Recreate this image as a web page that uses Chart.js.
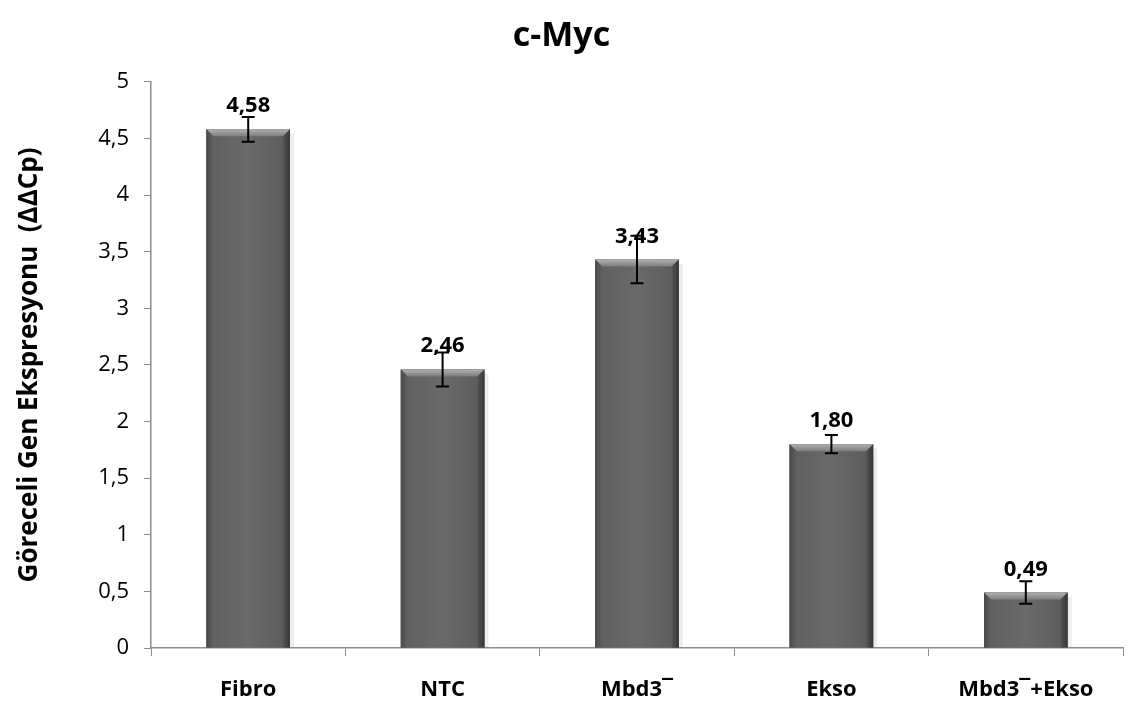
<!DOCTYPE html>
<html>
<head>
<meta charset="utf-8">
<script src="https://cdn.jsdelivr.net/npm/chart.js@4"></script>
<style>
  html, body { margin: 0; padding: 0; background: #fff; }
  #wrap { width: 1139px; height: 708px; }
</style>
</head>
<body>
<div id="wrap"><canvas id="chart"></canvas></div>
<script>
const categories = ['Fibro', 'NTC', 'Mbd3¯', 'Ekso', 'Mbd3¯+Ekso'];
const values = [4.58, 2.46, 3.43, 1.80, 0.49];
const errors = [0.11, 0.15, 0.21, 0.08, 0.10];

const FONT = "'Open Sans', 'Liberation Sans', sans-serif";
const comma = (v, d) => (d === undefined ? String(v) : v.toFixed(d)).replace('.', ',');

// bevelled bars, error whiskers and value labels
const barExtras = {
  id: 'barExtras',
  afterDatasetsDraw(chart) {
    const ctx = chart.ctx;
    const yScale = chart.scales.y;
    const meta = chart.getDatasetMeta(0);
    meta.data.forEach((bar, i) => {
      const p = bar.getProps(['x', 'y', 'width', 'base'], true);
      const l = p.x - p.width / 2, r = p.x + p.width / 2;
      const t = p.y, b = p.base;
      const bv = 7;
      ctx.save();
      // soft shadow on the right
      ctx.fillStyle = 'rgba(0,0,0,0.07)';
      ctx.fillRect(r, t + 4, 4, b - t - 4);
      // body shading
      const g = ctx.createLinearGradient(l, 0, r, 0);
      g.addColorStop(0, '#5e5e5e');
      g.addColorStop(0.5, '#6a6a6a');
      g.addColorStop(1, '#5a5a5a');
      ctx.fillStyle = g;
      ctx.fillRect(l, t, p.width, b - t);
      // top bevel
      ctx.beginPath();
      ctx.moveTo(l, t); ctx.lineTo(r, t); ctx.lineTo(r - bv, t + bv); ctx.lineTo(l + bv, t + bv);
      ctx.closePath();
      const gt = ctx.createLinearGradient(0, t, 0, t + bv);
      gt.addColorStop(0, '#b0b0b0');
      gt.addColorStop(1, '#7e7e7e');
      ctx.fillStyle = gt;
      ctx.fill();
      // left bevel
      ctx.beginPath();
      ctx.moveTo(l, t); ctx.lineTo(l + bv, t + bv); ctx.lineTo(l + bv, b); ctx.lineTo(l, b);
      ctx.closePath();
      const gl = ctx.createLinearGradient(l, 0, l + bv, 0);
      gl.addColorStop(0, '#4a4a4a');
      gl.addColorStop(1, '#606060');
      ctx.fillStyle = gl;
      ctx.fill();
      // right bevel
      ctx.beginPath();
      ctx.moveTo(r, t); ctx.lineTo(r - bv, t + bv); ctx.lineTo(r - bv, b); ctx.lineTo(r, b);
      ctx.closePath();
      const gr = ctx.createLinearGradient(r - bv, 0, r, 0);
      gr.addColorStop(0, '#555555');
      gr.addColorStop(1, '#363636');
      ctx.fillStyle = gr;
      ctx.fill();

      // error whisker
      const hi = yScale.getPixelForValue(values[i] + errors[i]);
      const lo = yScale.getPixelForValue(values[i] - errors[i]);
      ctx.strokeStyle = '#000';
      ctx.lineWidth = 2;
      ctx.beginPath();
      ctx.moveTo(p.x, hi); ctx.lineTo(p.x, lo);
      ctx.moveTo(p.x - 6.5, hi); ctx.lineTo(p.x + 6.5, hi);
      ctx.moveTo(p.x - 6.5, lo); ctx.lineTo(p.x + 6.5, lo);
      ctx.stroke();

      // value label
      ctx.fillStyle = '#000';
      ctx.font = 'bold 22px ' + FONT;
      ctx.textAlign = 'center';
      ctx.textBaseline = 'alphabetic';
      ctx.fillText(comma(values[i], 2), p.x, t - 17);
      ctx.restore();
    });
  }
};

new Chart(document.getElementById('chart'), {
  type: 'bar',
  data: {
    labels: categories,
    datasets: [{
      data: values,
      backgroundColor: '#646464',
      borderWidth: 0,
      categoryPercentage: 1,
      barPercentage: 0.43
    }]
  },
  options: {
    responsive: true,
    maintainAspectRatio: false,
    animation: false,
    layout: { padding: { left: 0, right: 16, top: 0, bottom: 0 } },
    plugins: {
      legend: { display: false },
      tooltip: { enabled: false },
      title: {
        display: true,
        text: 'c-Myc',
        color: '#000',
        font: { family: FONT, size: 34, weight: 'bold' },
        padding: { top: 16, bottom: 25 }
      }
    },
    scales: {
      x: {
        grid: {
          offset: true,
          drawOnChartArea: false,
          drawTicks: true,
          tickLength: 8,
          color: '#8c8c8c'
        },
        border: { color: '#8c8c8c', width: 1.5 },
        ticks: {
          color: '#000',
          padding: 21,
          font: { family: FONT, size: 22, weight: 'bold' }
        },
        afterFit(scale) { scale.height = 60; }
      },
      y: {
        min: 0,
        max: 5,
        ticks: {
          stepSize: 0.5,
          color: '#000',
          padding: 15,
          font: { family: FONT, size: 22 },
          callback: v => comma(v)
        },
        grid: {
          drawOnChartArea: false,
          drawTicks: true,
          tickLength: 7,
          color: '#8c8c8c'
        },
        border: { color: '#8c8c8c', width: 1.5 },
        title: {
          display: true,
          text: 'Göreceli Gen Ekspresyonu  (ΔΔCp)',
          color: '#000',
          font: { family: FONT, size: 26, weight: 'bold' },
          padding: { top: 14, bottom: 10 }
        },
        afterFit(scale) { scale.width = 151; }
      }
    }
  },
  plugins: [barExtras]
});
</script>
</body>
</html>
